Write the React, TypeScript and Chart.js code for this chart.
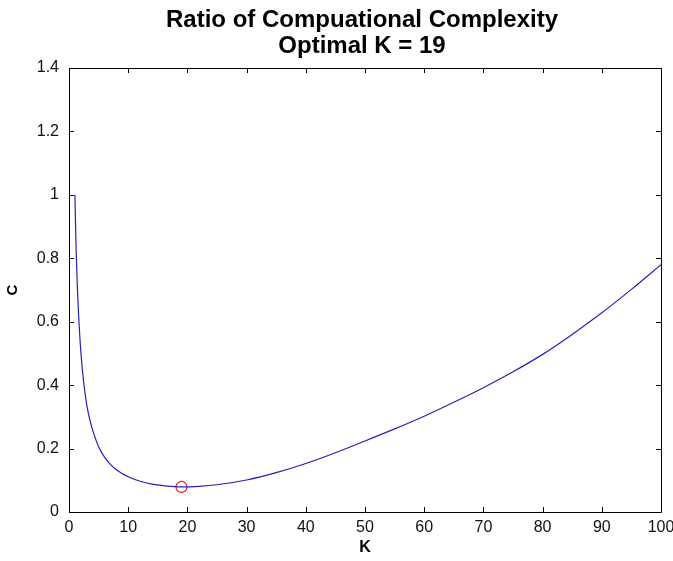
import React, { useEffect, useRef } from "react";
import { Chart, registerables } from "chart.js";

Chart.register(...registerables);

const kValues = [1, 1.2, 1.4, 1.6, 2, 2.5, 3, 3.5, 4, 5, 6, 7, 8, 9, 10, 12, 14, 16, 19, 22, 25, 30, 35, 40, 45, 50, 55, 60, 65, 70, 75, 80, 85, 90, 95, 100];
const cValues = [1.0, 0.83, 0.715, 0.63, 0.505, 0.405, 0.338, 0.292, 0.258, 0.206, 0.173, 0.15, 0.133, 0.121, 0.111, 0.097, 0.088, 0.083, 0.079, 0.081, 0.086, 0.101, 0.124, 0.153, 0.187, 0.224, 0.262, 0.302, 0.346, 0.392, 0.442, 0.497, 0.56, 0.628, 0.702, 0.78];
const optimalK = [19];
const optimalC = [0.079];
const titleLines = ["Ratio of Compuational Complexity", "Optimal K = 19"];
const xLabel = "K";
const yLabel = "C";

const framePlugin = {
  id: "matlabFrame",
  afterDraw(chart: any) {
    const { ctx, chartArea } = chart;
    const { left, right, top, bottom } = chartArea;
    const xs = chart.scales.x;
    const ys = chart.scales.y;
    const tl = 5;
    ctx.save();
    ctx.strokeStyle = "#000";
    ctx.lineWidth = 1;
    ctx.beginPath();
    ctx.rect(Math.round(left) + 0.5, Math.round(top) + 0.5, Math.round(right - left), Math.round(bottom - top));
    ctx.stroke();
    ctx.beginPath();
    xs.ticks.forEach((t: any) => {
      const px = Math.round(xs.getPixelForValue(t.value)) + 0.5;
      ctx.moveTo(px, bottom);
      ctx.lineTo(px, bottom - tl);
      ctx.moveTo(px, top);
      ctx.lineTo(px, top + tl);
    });
    ys.ticks.forEach((t: any) => {
      const py = Math.round(ys.getPixelForValue(t.value)) + 0.5;
      ctx.moveTo(left, py);
      ctx.lineTo(left + tl, py);
      ctx.moveTo(right, py);
      ctx.lineTo(right - tl, py);
    });
    ctx.stroke();
    // title
    ctx.fillStyle = "#000";
    ctx.font = "bold 24px 'Liberation Sans', Arial, sans-serif";
    ctx.textAlign = "center";
    ctx.textBaseline = "alphabetic";
    const cx = (left + right) / 2;
    ctx.fillText(titleLines[0], cx - 3, 27);
    ctx.fillText(titleLines[1], cx - 3, 53);
    ctx.restore();
  },
};

export default function App() {
  const ref = useRef<HTMLCanvasElement | null>(null);
  useEffect(() => {
    document.body.style.margin = "0";
    const canvas = ref.current;
    if (!canvas) return;
    const curve = kValues.map((k, i) => ({ x: k, y: cValues[i] }));
    const opt = optimalK.map((k, i) => ({ x: k, y: optimalC[i] }));
    const tickFont = { family: "'Liberation Sans Narrow', 'Liberation Sans', Arial, sans-serif", size: 16 };
    const fmt = (v: any) => String(parseFloat(Number(v).toFixed(2)));
    const chart = new Chart(canvas, {
      type: "line",
      data: {
        datasets: [
          {
            data: curve,
            borderColor: "#2424b0",
            borderWidth: 1.2,
            pointRadius: 0,
            fill: false,
            cubicInterpolationMode: "monotone",
          },
          {
            data: opt,
            showLine: false,
            pointRadius: 5.5,
            pointStyle: "circle",
            pointBorderColor: "#e01818",
            pointBackgroundColor: "rgba(0,0,0,0)",
            pointBorderWidth: 1.2,
          },
        ],
      },
      options: {
        responsive: false,
        animation: false,
        devicePixelRatio: 1,
        layout: { padding: { top: 68, right: 12, left: 0, bottom: 0 } },
        plugins: { legend: { display: false }, tooltip: { enabled: false }, title: { display: false } },
        scales: {
          x: {
            type: "linear",
            min: 0,
            max: 100,
            grid: { display: false, drawTicks: false },
            border: { display: false },
            ticks: { stepSize: 10, color: "#111", font: tickFont, padding: 6, maxRotation: 0, autoSkip: false, callback: fmt },
            title: {
              display: true,
              text: xLabel,
              color: "#000",
              font: { family: "'Liberation Sans', Arial, sans-serif", size: 16, weight: "bold" },
              padding: { top: 0, bottom: 4 },
            },
            afterFit(scale: any) {
              scale.height = 49;
              scale.paddingLeft = 0;
              scale.paddingRight = 0;
            },
          },
          y: {
            type: "linear",
            min: 0,
            max: 1.4,
            grid: { display: false, drawTicks: false },
            border: { display: false },
            ticks: { stepSize: 0.2, color: "#111", font: tickFont, padding: 10, callback: fmt },
            title: {
              display: true,
              text: yLabel,
              color: "#000",
              font: { family: "'Liberation Sans', Arial, sans-serif", size: 15, weight: "bold" },
              padding: { top: 4, bottom: 0 },
            },
            afterFit(scale: any) {
              scale.width = 69;
              scale.paddingTop = 0;
              scale.paddingBottom = 0;
            },
          },
        },
      },
      plugins: [framePlugin],
    } as any);
    return () => chart.destroy();
  }, []);
  return (
    <div style={{ position: "fixed", left: 0, top: 0, width: 673, height: 561, background: "#fff" }}>
      <canvas ref={ref} width={673} height={561} />
    </div>
  );
}
